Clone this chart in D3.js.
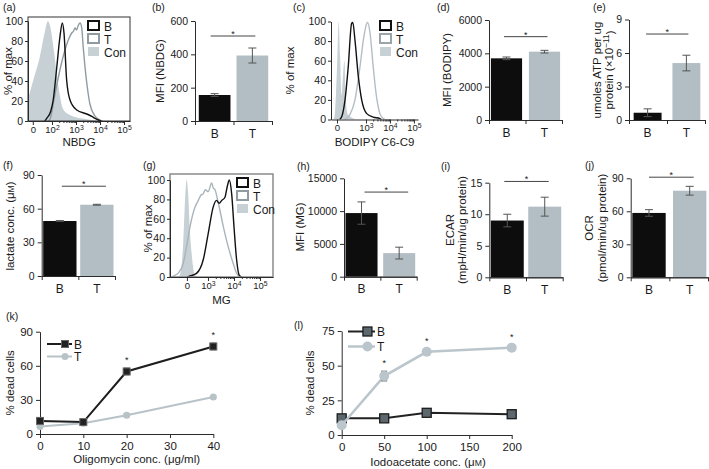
<!DOCTYPE html>
<html><head><meta charset="utf-8">
<script src="https://cdn.jsdelivr.net/npm/d3@7"></script>
<style>
body{margin:0;background:#fff}
svg{display:block}
text{font-family:"Liberation Sans",Arial,Helvetica,sans-serif;fill:#1a1a1a}
</style></head><body>
<svg id="fig" width="709" height="469"></svg>
<script>
// ---------------- DATA ----------------
const barCats = ["B", "T"];
const nbdgMFI = [156, 393],  nbdgErr = [8, 45],     nbdgTicks = [0, 200, 400, 600];
const bodipyMFI = [3700, 4100], bodipyErr = [80, 80], bodipyTicks = [0, 2000, 4000, 6000];
const atpVals = [0.65, 5.1], atpErr = [0.35, 0.7],  atpTicks = [0, 3, 6, 9];
const lactateVals = [49, 63.5], lactateErr = [0.4, 0.4], lactateTicks = [0, 30, 60, 90];
const mgMFI = [9700, 3600], mgErr = [1700, 900],    mgTicks = [0, 5000, 10000, 15000];
const ecarVals = [9.0, 11.2], ecarErr = [1.0, 1.5], ecarTicks = [0, 5, 10, 15];
const ocrVals = [58.5, 78.7], ocrErr = [3, 4],      ocrTicks = [0, 30, 60, 90];
// significance bar levels (data units)
const sigLevels = {nbdg: 510, bodipy: 5000, atp: 7.7, lactate: 80, mg: 12900, ecar: 15.2, ocr: 91};

// histograms: [log10 position, % of max]
const pctTicks = [0, 20, 40, 60, 80, 100];
const nbdgTickPos = [1.2, 2, 3, 4, 5], nbdgTickLabels = ["0", "10^2", "10^3", "10^4", "10^5"];
const bodipyTickPos = [1.79, 3, 4, 5], bodipyTickLabels = ["0", "10^3", "10^4", "10^5"];
const mgTickPos = [2.19, 3, 4, 5], mgTickLabels = ["0", "10^3", "10^4", "10^5"];
const histLegend = ["B", "T", "Con"];

const nbdgCon = [[1.0,22],[1.21,40],[1.5,65],[1.71,90],[1.83,100],[1.92,95],[2.08,70],[2.21,45],[2.33,25],[2.46,12],[2.67,7],[2.96,4],[3.38,2],[3.79,0.5],[4.0,0]];
const nbdgB = [[1.7,0],[1.78,2.7],[1.95,10],[2.05,21],[2.2,54],[2.33,84],[2.43,98],[2.5,88],[2.61,41],[2.75,21],[3.03,11],[3.45,7],[3.72,3.7],[3.93,1],[4.05,0]];
const nbdgT = [[1.85,0],[1.92,2],[2.125,27],[2.33,51],[2.54,71],[2.68,81],[2.82,88],[2.9,90],[2.96,93],[3.02,91],[3.1,96],[3.17,98],[3.24,93],[3.3,74],[3.375,54],[3.47,34],[3.58,17],[3.79,5],[4.0,1],[4.1,0]];

const bodipyCon = [[1.65,0],[1.71,8],[1.80,60],[1.86,100],[1.92,65],[1.98,25],[2.04,45],[2.1,60],[2.16,20],[2.24,5],[2.4,2],[2.6,0]];
const bodipyB = [[1.9,0],[1.99,3],[2.125,20],[2.26,54],[2.4,98],[2.45,99],[2.54,81],[2.68,44],[2.82,20],[3.03,6],[3.3,2.5],[3.58,1],[3.65,0]];
const bodipyT = [[2.1,0],[2.2,1],[2.33,5],[2.54,20],[2.75,54],[2.89,81],[3.03,98],[3.07,99],[3.17,88],[3.3,54],[3.44,23],[3.58,6],[3.72,1],[3.8,0]];

const mgCon = [[1.85,0],[1.92,2],[2.05,35],[2.14,90],[2.18,100],[2.24,85],[2.3,50],[2.37,25],[2.45,6],[2.5,2],[2.6,0]];
const mgT = [[1.6,0],[1.67,1],[1.86,4],[2.05,14],[2.2,35],[2.31,52],[2.5,72],[2.63,79],[2.72,84],[2.82,86],[2.9,90],[3.01,88],[3.14,97],[3.2,92],[3.27,90],[3.4,76],[3.59,52],[3.78,31],[3.97,14],[4.1,4],[4.23,0]];
const mgB = [[2.2,0],[2.31,1],[2.57,4],[2.82,18],[3.01,45],[3.2,72],[3.33,79],[3.43,76],[3.53,79],[3.65,82],[3.74,93],[3.82,100],[3.91,86],[4.0,52],[4.1,18],[4.2,2],[4.3,0]];

// line charts
const oligoConc = [0, 10, 20, 40];
const oligoB = [11.5, 10.5, 55, 77], oligoBErr = [2, 1, 3, 3];
const oligoT = [6.5, 9.5, 16.5, 32.5], oligoTErr = [1, 1, 1.5, 1];
const oligoSig = [false, false, true, true];
const oligoXTicks = [0, 10, 20, 30, 40], oligoYTicks = [0, 30, 60, 90];

const iodoConc = [0, 50, 100, 200];
const iodoB = [12, 12, 16, 15], iodoBErr = [1, 1, 1, 1];
const iodoT = [7, 42.5, 60, 63], iodoTErr = [1, 3.5, 2, 2];
const iodoSig = [false, true, true, true];
const iodoXTicks = [0, 50, 100, 150, 200], iodoYTicks = [0, 25, 50, 75];

// ---------------- DRAWING ----------------
const svg = d3.select("#fig");
const FF = '"Liberation Sans",Arial,Helvetica,sans-serif';
const AX = "#2b2b2b";
const BAR_COLORS = ["#0d0d0d", "#b3bec4"];
const CON = "#c6d0d5";
const FS = 10.5;     // tick labels
const TS = 11.5;     // axis titles

function styleAxis(g, fs) {
  g.attr("font-family", FF).attr("font-size", fs || FS);
  g.selectAll("path.domain, .tick line").attr("stroke", AX).attr("stroke-width", 1);
  g.selectAll(".tick text").attr("fill", "#1a1a1a");
  return g;
}
function text(x, y, s, o = {}) {
  return svg.append("text").attr("x", x).attr("y", y).attr("font-size", o.fs || FS)
    .attr("text-anchor", o.anchor || "start").text(s);
}
function vlabel(x, cy, lines, dx = 11) {
  lines.forEach((parts, i) => {
    const t = svg.append("text").attr("transform", `translate(${x + i * dx},${cy}) rotate(-90)`)
      .attr("text-anchor", "middle").attr("dy", "0.35em").attr("font-size", TS);
    (Array.isArray(parts) ? parts : [[parts]]).forEach(p => {
      const ts = t.append("tspan").text(p[0]);
      if (p[1] === "sup") ts.attr("dy", "-0.45em").attr("font-size", "0.72em");
      if (p[1] === "after") ts.attr("dy", "0.45em");
      if (p[1] === "small") ts.attr("font-size", "0.75em");
    });
  });
}
function panelLabel(x, y, s) { text(x, y, s, {fs: 10.5}); }
function asterisk(x, yc, fs = 9) {
  svg.append("text").attr("x", x).attr("y", yc + fs * 0.55).attr("text-anchor", "middle")
    .attr("font-size", fs).text("*");
}

// ---- bar panel ----
function barPanel(o) {
  const y = d3.scaleLinear().domain([0, o.ticks[o.ticks.length - 1]]).range([o.bottom, o.top]);
  const x = d3.scaleBand().domain(barCats).range([o.left, o.right]).paddingInner(o.pi).paddingOuter(o.po);
  const g = svg.append("g");
  g.selectAll("rect").data(o.vals).join("rect")
    .attr("x", (d, i) => x(barCats[i])).attr("width", x.bandwidth())
    .attr("y", d => y(d)).attr("height", d => o.bottom - y(d))
    .attr("fill", (d, i) => BAR_COLORS[i]);
  const eb = g.append("g").attr("stroke", "#555").attr("stroke-width", 1);
  o.vals.forEach((v, i) => {
    const cx = x(barCats[i]) + x.bandwidth() / 2, e = o.errs[i];
    eb.append("line").attr("x1", cx).attr("x2", cx).attr("y1", y(v - e)).attr("y2", y(v + e));
    [v - e, v + e].forEach(w => eb.append("line").attr("x1", cx - 4).attr("x2", cx + 4).attr("y1", y(w)).attr("y2", y(w)));
  });
  styleAxis(g.append("g").attr("transform", `translate(${o.left},0)`)
    .call(d3.axisLeft(y).tickValues(o.ticks).tickSize(4).tickSizeOuter(0).tickPadding(3).tickFormat(d3.format("d"))));
  const xa = g.append("g").attr("transform", `translate(0,${o.bottom})`)
    .call(d3.axisBottom(x).tickSize(0).tickPadding(8));
  styleAxis(xa, 12);
  const xb = d3.scaleLinear().domain([0, 2]).range([o.left, o.right]);
  const xt = g.append("g").attr("transform", `translate(0,${o.bottom})`)
    .call(d3.axisBottom(xb).tickValues([0, 1, 2]).tickSize(4).tickSizeOuter(0).tickFormat(""));
  styleAxis(xt);
  const sy = y(o.sig);
  const cB = x("B") + x.bandwidth() / 2, cT = x("T") + x.bandwidth() / 2;
  g.append("line").attr("x1", cB + o.sdx[0]).attr("x2", cT + o.sdx[1]).attr("y1", sy).attr("y2", sy)
    .attr("stroke", "#444").attr("stroke-width", 1);
  asterisk((cB + o.sdx[0] + cT + o.sdx[1]) / 2, sy - 4);
}

// ---- histogram panel ----
function supLabels(sel, labels) {
  sel.selectAll(".tick text").each(function (d, i) {
    const t = d3.select(this); const s = labels[i]; t.text(null);
    if (s.indexOf("^") < 0) { t.text(s); return; }
    const [b, e] = s.split("^");
    t.append("tspan").text(b);
    t.append("tspan").attr("dy", "-0.45em").attr("font-size", "0.72em").text(e);
  });
}
function histPanel(o) {
  const x = d3.scaleLinear().domain(o.dom).range([o.left, o.right]);
  const y = d3.scaleLinear().domain([0, 100]).range([o.bottom, o.y100]);
  const g = svg.append("g");
  const cid = "clip-" + o.id;
  g.append("clipPath").attr("id", cid).append("rect").attr("x", o.left).attr("y", o.top)
    .attr("width", o.right - o.left).attr("height", o.bottom - o.top);
  const area = d3.area().x(d => x(d[0])).y0(y(0)).y1(d => y(d[1])).curve(d3.curveMonotoneX);
  const line = d3.line().x(d => x(d[0])).y(d => y(d[1])).curve(d3.curveMonotoneX);
  const pg = g.append("g").attr("clip-path", `url(#${cid})`);
  pg.append("path").attr("d", area(o.con)).attr("fill", CON);
  pg.append("path").attr("d", line(o.t)).attr("fill", "none").attr("stroke", o.tColor).attr("stroke-width", 1.4);
  pg.append("path").attr("d", line(o.b)).attr("fill", "none").attr("stroke", "#111").attr("stroke-width", 1.4);
  if (o.frame) g.append("rect").attr("x", o.left).attr("y", o.top).attr("width", o.right - o.left)
    .attr("height", o.bottom - o.top).attr("fill", "none").attr("stroke", o.frameColor).attr("stroke-width", o.frameW);
  styleAxis(g.append("g").attr("transform", `translate(${o.left},0)`)
    .call(d3.axisLeft(y).tickValues(pctTicks).tickSize(3).tickSizeOuter(0).tickPadding(2)));
  const xa = g.append("g").attr("transform", `translate(0,${o.bottom})`)
    .call(d3.axisBottom(x).tickValues(o.tickPos).tickSize(4).tickSizeOuter(0).tickPadding(1));
  styleAxis(xa, 9.5);
  supLabels(xa, o.tickLabels);
  const minor = [];
  o.decades.forEach(dc => { for (let k = 2; k <= 9; k++) minor.push(dc + Math.log10(k)); });
  const mi = g.append("g").attr("transform", `translate(0,${o.bottom})`)
    .call(d3.axisBottom(x).tickValues(minor).tickSize(2).tickFormat(""));
  mi.select(".domain").remove(); styleAxis(mi);
  histLegend.forEach((s, i) => {
    const ly = o.legY + i * 13;
    const r = svg.append("rect").attr("x", o.legX).attr("y", ly).attr("width", 11).attr("height", 9);
    if (i === 0) r.attr("fill", "#fff").attr("stroke", "#111").attr("stroke-width", 2);
    else if (i === 1) r.attr("fill", "#fff").attr("stroke", o.tLegColor).attr("stroke-width", 2);
    else r.attr("fill", CON);
    text(o.legX + 16, ly + 9.5, s, {fs: 12});
  });
  vlabel(o.ylabX, (o.bottom + o.y100) / 2, ["% of max"]);
  text((o.left + o.right) / 2, o.xlabY, o.xlab, {anchor: "middle", fs: TS});
}

// ---- line panel ----
function linePanel(o) {
  const x = d3.scaleLinear().domain([o.xTicks[0], o.xTicks[o.xTicks.length - 1]]).range([o.left, o.right]);
  const y = d3.scaleLinear().domain([0, o.yTicks[o.yTicks.length - 1]]).range([o.bottom, o.top]);
  const g = svg.append("g");
  styleAxis(g.append("g").attr("transform", `translate(${o.left},0)`)
    .call(d3.axisLeft(y).tickValues(o.yTicks).tickSize(4).tickSizeOuter(0).tickPadding(3)), 11.5);
  styleAxis(g.append("g").attr("transform", `translate(0,${o.bottom})`)
    .call(d3.axisBottom(x).tickValues(o.xTicks).tickSize(4).tickSizeOuter(0).tickPadding(4)), 11.5);
  const line = d3.line().x((d, i) => x(o.conc[i])).y(d => y(d));
  const series = [
    {v: o.t, e: o.tErr, s: o.tStyle, kind: "circle"},
    {v: o.b, e: o.bErr, s: o.bStyle, kind: "square"}
  ];
  if (o.bFirst) series.reverse();
  series.forEach(sr => {
    g.append("path").attr("d", line(sr.v)).attr("fill", "none").attr("stroke", sr.s.line).attr("stroke-width", sr.s.lw);
    const eb = g.append("g").attr("stroke", sr.s.err).attr("stroke-width", 1);
    sr.v.forEach((v, i) => {
      const cx = x(o.conc[i]), e = sr.e[i];
      eb.append("line").attr("x1", cx).attr("x2", cx).attr("y1", y(v - e)).attr("y2", y(v + e));
      [v - e, v + e].forEach(w => eb.append("line").attr("x1", cx - 3).attr("x2", cx + 3).attr("y1", y(w)).attr("y2", y(w)));
    });
    sr.v.forEach((v, i) => marker(g, x(o.conc[i]), y(v), sr.kind, sr.s));
  });
  o.sig.forEach((s, i) => {
    if (!s) return;
    const top = Math.max(o.b[i] + o.bErr[i], o.t[i] + o.tErr[i]);
    asterisk(x(o.conc[i]), y(top) - 10);
  });
  [["B", o.bStyle, "square"], ["T", o.tStyle, "circle"]].forEach((L, i) => {
    const ly = o.legY + i * o.legDy;
    g.append("line").attr("x1", o.legX).attr("x2", o.legX + o.legW).attr("y1", ly).attr("y2", ly)
      .attr("stroke", L[1].line).attr("stroke-width", L[1].lw);
    marker(g, o.legX + o.legW * 0.72, ly, L[2], L[1]);
    text(o.legX + o.legW + 2, ly + 4.5, L[0], {fs: 12});
  });
  vlabel(o.ylabX, (o.top + o.bottom) / 2, ["% dead cells"]);
}
function marker(g, cx, cy, kind, s) {
  if (kind === "square") g.append("rect").attr("x", cx - s.ms / 2).attr("y", cy - s.ms / 2)
    .attr("width", s.ms).attr("height", s.ms).attr("fill", s.fill).attr("stroke", s.stroke).attr("stroke-width", s.sw);
  else g.append("circle").attr("cx", cx).attr("cy", cy).attr("r", s.ms / 2).attr("fill", s.fill);
}

// ===== Row 1 =====
panelLabel(3, 11, "(a)");
histPanel({id: "a", left: 28, right: 130, top: 17, bottom: 121, y100: 21, dom: [1.0, 5.25],
  tickPos: nbdgTickPos, tickLabels: nbdgTickLabels, decades: [2, 3, 4],
  con: nbdgCon, b: nbdgB, t: nbdgT, tColor: "#8f9ba0", tLegColor: "#8f9ba0", frame: true, frameColor: "#333", frameW: 1,
  legX: 88, legY: 21, ylabX: 8, xlab: "NBDG", xlabY: 146});

panelLabel(152, 11, "(b)");
barPanel({left: 195, right: 272, top: 21, bottom: 121, pi: 0.16, po: 0.1, vals: nbdgMFI, errs: nbdgErr,
  ticks: nbdgTicks, sig: sigLevels.nbdg, sdx: [-4, 3]});
vlabel(160, 71, ["MFI (NBDG)"]);

panelLabel(293, 11, "(c)");
histPanel({id: "c", left: 331, right: 418, top: 17, bottom: 119.5, y100: 21.5, dom: [1.54, 5.17],
  tickPos: bodipyTickPos, tickLabels: bodipyTickLabels, decades: [3, 4],
  con: bodipyCon, b: bodipyB, t: bodipyT, tColor: "#b3bec3", tLegColor: "#9aa5aa", frame: false,
  legX: 380, legY: 21, ylabX: 290, xlab: "BODIPY C6-C9", xlabY: 146});

panelLabel(437, 11, "(d)");
barPanel({left: 489, right: 562, top: 20, bottom: 120, pi: 0.18, po: 0.05, vals: bodipyMFI, errs: bodipyErr,
  ticks: bodipyTicks, sig: sigLevels.bodipy, sdx: [-2.5, 3]});
vlabel(447, 70, ["MFI (BODIPY)"]);

panelLabel(593, 11, "(e)");
barPanel({left: 629, right: 705, top: 19.5, bottom: 120, pi: 0.28, po: 0.12, vals: atpVals, errs: atpErr,
  ticks: atpTicks, sig: sigLevels.atp, sdx: [-1.5, 2]});
vlabel(597, 70, [[["umoles ATP per ug"]], [["protein (×10"], ["−11", "sup"], [")", "after"]]], 12);

// ===== Row 2 =====
panelLabel(3, 169, "(f)");
barPanel({left: 41.7, right: 115, top: 175, bottom: 276, pi: 0.1, po: 0.04, vals: lactateVals, errs: lactateErr,
  ticks: lactateTicks, sig: sigLevels.lactate, sdx: [2, 9]});
vlabel(10, 226, [[["lactate conc. (μ"], ["M", "small"], [")"]]]);

panelLabel(143, 169, "(g)");
histPanel({id: "g", left: 170, right: 273, top: 174, bottom: 277, y100: 180, dom: [1.54, 5.5],
  tickPos: mgTickPos, tickLabels: mgTickLabels, decades: [3, 4],
  con: mgCon, b: mgB, t: mgT, tColor: "#a9b5ba", tLegColor: "#8f9ba0", frame: true, frameColor: "#8a8a8a", frameW: 1.5,
  legX: 237, legY: 178, ylabX: 148, xlab: "MG", xlabY: 304});

panelLabel(297, 170, "(h)");
barPanel({left: 344, right: 416.7, top: 178.3, bottom: 276.7, pi: 0.15, po: 0.04, vals: mgMFI, errs: mgErr,
  ticks: mgTicks, sig: sigLevels.mg, sdx: [3, 9]});
vlabel(300, 227, ["MFI (MG)"]);

panelLabel(441, 170, "(i)");
barPanel({left: 489.3, right: 562.7, top: 182.7, bottom: 277.3, pi: 0.12, po: 0.04, vals: ecarVals, errs: ecarErr,
  ticks: ecarTicks, sig: sigLevels.ecar, sdx: [-3, 4]});
vlabel(450, 230, [[["ECAR"]], [["(mpH/min/ug protein)"]]], 12);

panelLabel(585, 169, "(j)");
barPanel({left: 630.7, right: 708, top: 178.3, bottom: 277.3, pi: 0.18, po: 0.04, vals: ocrVals, errs: ocrErr,
  ticks: ocrTicks, sig: sigLevels.ocr, sdx: [0, 4]});
vlabel(589, 228, [[["OCR"]], [["(pmol/min/ug protein)"]]], 13);

// ===== Row 3 =====
panelLabel(6, 320, "(k)");
linePanel({left: 40, right: 213.3, top: 331.7, bottom: 434, conc: oligoConc, xTicks: oligoXTicks, yTicks: oligoYTicks,
  b: oligoB, bErr: oligoBErr, t: oligoT, tErr: oligoTErr, sig: oligoSig, bFirst: false,
  bStyle: {line: "#1e1e1e", lw: 2, ms: 7, fill: "#222", stroke: "#666", sw: 1, err: "#777"},
  tStyle: {line: "#b8c3c8", lw: 2, ms: 7, fill: "#b8c3c8", err: "#999"},
  legX: 47, legY: 344, legDy: 12.5, legW: 25, ylabX: 10});
text(136.7, 463, "Oligomycin conc. (μg/ml)", {anchor: "middle", fs: TS});

panelLabel(294, 329, "(l)");
linePanel({left: 341.7, right: 511.7, top: 331, bottom: 435, conc: iodoConc, xTicks: iodoXTicks, yTicks: iodoYTicks,
  b: iodoB, bErr: iodoBErr, t: iodoT, tErr: iodoTErr, sig: iodoSig, bFirst: true,
  bStyle: {line: "#222", lw: 2, ms: 9, fill: "#5c686d", stroke: "#1c1c1c", sw: 1.3, err: "#555"},
  tStyle: {line: "#bac6cb", lw: 2.5, ms: 10, fill: "#bac6cb", err: "#555"},
  legX: 348, legY: 331.5, legDy: 15, legW: 27, ylabX: 310});
const il = svg.append("text").attr("x", 428).attr("y", 466).attr("text-anchor", "middle").attr("font-size", TS);
il.append("tspan").text("Iodoacetate conc. (μ");
il.append("tspan").attr("font-size", "0.75em").text("M");
il.append("tspan").text(")");
</script>
</body></html>
